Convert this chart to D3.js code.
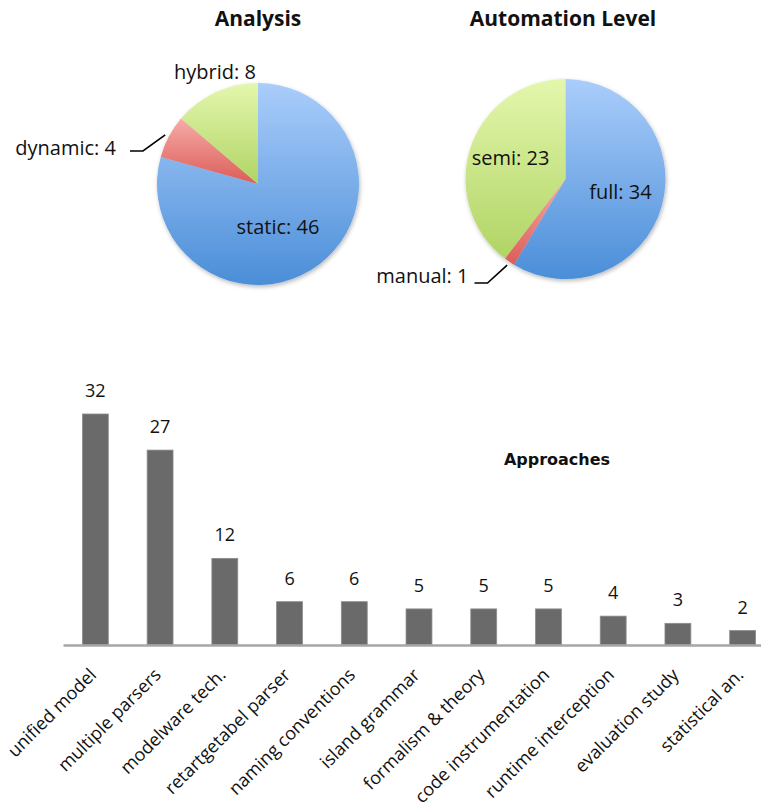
<!DOCTYPE html>
<html>
<head>
<meta charset="utf-8">
<script src="https://cdn.jsdelivr.net/npm/d3@7"></script>
<style>
  html, body { margin: 0; padding: 0; background: #fff; }
  svg { display: block; }
  text { font-family: "Open Sans", "DejaVu Sans", sans-serif; fill: #111; }
</style>
</head>
<body>
<svg id="chart" width="761" height="812"></svg>
<script>
// ---- data ----
const analysisLabels = ["static", "dynamic", "hybrid"];
const analysisValues = [46, 4, 8];

const automationLabels = ["full", "manual", "semi"];
const automationValues = [34, 1, 23];

const approachCategories = [
  "unified model", "multiple parsers", "modelware tech.", "retartgetabel parser",
  "naming conventions", "island grammar", "formalism & theory", "code instrumentation",
  "runtime interception", "evaluation study", "statistical an."
];
const approachValues = [32, 27, 12, 6, 6, 5, 5, 5, 4, 3, 2];

// ---- styling ----
const sliceGradients = [
  { id: "gBlue",  top: "#aacdfb", bottom: "#4b8ed8" },
  { id: "gRed",   top: "#f6aca8", bottom: "#dc5c57" },
  { id: "gGreen", top: "#e4f7ad", bottom: "#b0d465" }
];

const svg = d3.select("#chart");
const defs = svg.append("defs");

sliceGradients.forEach(g => {
  const lg = defs.append("linearGradient")
    .attr("id", g.id).attr("x1", 0).attr("y1", 0).attr("x2", 0).attr("y2", 1);
  lg.append("stop").attr("offset", "0%").attr("stop-color", g.top);
  lg.append("stop").attr("offset", "100%").attr("stop-color", g.bottom);
});

const shadow = defs.append("filter").attr("id", "pieShadow")
  .attr("x", "-20%").attr("y", "-20%").attr("width", "140%").attr("height", "140%");
shadow.append("feDropShadow")
  .attr("dx", 1).attr("dy", 2).attr("stdDeviation", 2)
  .attr("flood-color", "#000").attr("flood-opacity", 0.28);

// ---- pie charts ----
function drawPie(cfg) {
  const g = svg.append("g").attr("transform", `translate(${cfg.cx},${cfg.cy})`);
  const pie = d3.pie().sort(null).value(d => d.value);
  const arc = d3.arc().innerRadius(0).outerRadius(cfg.r);
  const data = cfg.labels.map((l, i) => ({ label: l, value: cfg.values[i], fill: `url(#${sliceGradients[i].id})` }));
  const arcs = pie(data);

  const slices = g.append("g").attr("filter", "url(#pieShadow)");
  slices.selectAll("path").data(arcs).join("path")
    .attr("d", arc)
    .attr("fill", d => d.data.fill);

  svg.append("text")
    .attr("x", cfg.titleX).attr("y", 26)
    .attr("text-anchor", "middle")
    .style("font-weight", "700").style("font-size", "21px")
    .text(cfg.title);

  arcs.forEach((a, i) => {
    const lp = cfg.labelPos[i];
    g.append("text")
      .attr("x", lp.dx).attr("y", lp.dy)
      .attr("text-anchor", lp.anchor)
      .style("font-size", "20px")
      .text(`${a.data.label}: ${a.data.value}`);
    if (lp.leader) {
      const mid = (a.startAngle + a.endAngle) / 2;
      const rr = cfg.r + 4;
      const px = rr * Math.sin(mid), py = -rr * Math.cos(mid);
      g.append("path")
        .attr("d", d3.line()([[lp.leader.x0, lp.leader.y], [lp.leader.x1, lp.leader.y], [px, py]]))
        .attr("fill", "none").attr("stroke", "#000").attr("stroke-width", 1.6);
    }
  });
}

drawPie({
  title: "Analysis", titleX: 258,
  cx: 258, cy: 184, r: 101,
  labels: analysisLabels, values: analysisValues,
  labelPos: [
    { dx: 20, dy: 50, anchor: "middle" },
    { dx: -142, dy: -29, anchor: "end", leader: { x0: -128, x1: -115, y: -33 } },
    { dx: -43, dy: -105, anchor: "middle" }
  ]
});

drawPie({
  title: "Automation Level", titleX: 563,
  cx: 565.5, cy: 179, r: 100,
  labels: automationLabels, values: automationValues,
  labelPos: [
    { dx: 55, dy: 20, anchor: "middle" },
    { dx: -97, dy: 104, anchor: "end", leader: { x0: -91, x1: -78, y: 104 } },
    { dx: -55, dy: -14, anchor: "middle" }
  ]
});

// ---- bar chart ----
const x = d3.scaleBand()
  .domain(approachCategories)
  .range([63, 775])
  .paddingInner(0.6)
  .paddingOuter(0.3);

const y = d3.scaleLinear().domain([0, 32]).range([645, 414]);

const bars = svg.append("g");
bars.selectAll("rect").data(approachValues).join("rect")
  .attr("x", (d, i) => x(approachCategories[i]))
  .attr("y", d => y(d))
  .attr("width", x.bandwidth())
  .attr("height", d => y(0) - y(d))
  .attr("fill", "#6a6a6a")
  .attr("stroke", "#8c8c8c")
  .attr("stroke-width", 0.8);

bars.selectAll("text.val").data(approachValues).join("text")
  .attr("class", "val")
  .attr("x", (d, i) => x(approachCategories[i]) + x.bandwidth() / 2)
  .attr("y", d => y(d) - 17)
  .attr("text-anchor", "middle")
  .style("font-size", "18px")
  .text(d => d);

// category axis
const axis = svg.append("g").attr("transform", `translate(0,${y(0)})`)
  .call(d3.axisBottom(x).tickSize(0).tickSizeOuter(0).tickPadding(0));
axis.select(".domain").attr("stroke", "#a6a6a6").attr("stroke-width", 2.5);
axis.selectAll(".tick text")
  .attr("transform", "translate(2,31) rotate(-45)")
  .attr("text-anchor", "end")
  .attr("dy", 0)
  .attr("y", 0)
  .style("font-size", "18px")
  .style("font-family", "'Open Sans', sans-serif")
  .attr("fill", "#111");

svg.append("text")
  .attr("x", 557).attr("y", 465)
  .attr("text-anchor", "middle")
  .style("font-family", "'DejaVu Sans', sans-serif")
  .style("font-weight", "700").style("font-size", "16px")
  .text("Approaches");
</script>
</body>
</html>
